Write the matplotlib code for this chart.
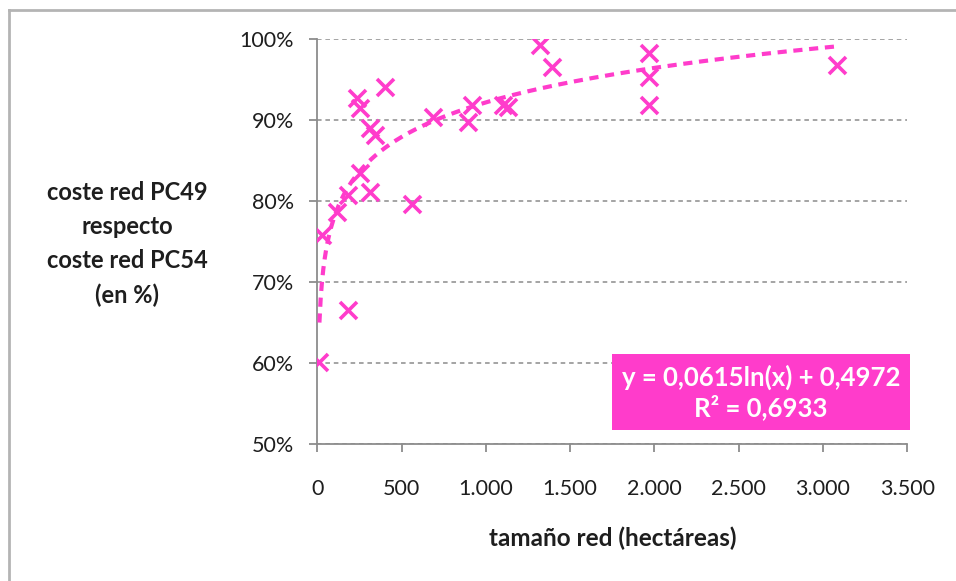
import numpy as np
import matplotlib.pyplot as plt
from matplotlib.ticker import FuncFormatter
from matplotlib.lines import Line2D

# datos: tamaño de red (ha) y coste relativo (%)
TAMANO = [10, 28, 118, 180, 183, 313, 561, 254, 343, 313, 254, 236, 402,
          686, 892, 916, 1099, 1129, 1318, 1395, 1968, 1968, 1968, 3085]
COSTE = [60.1, 75.8, 78.7, 80.8, 66.5, 81.1, 79.6, 83.5, 88.2, 89.0, 91.5,
         92.7, 94.1, 90.4, 89.8, 91.9, 91.9, 91.6, 99.3, 96.6, 98.3, 95.3,
         91.9, 96.8]

# ajuste logarítmico de Excel
COEF_A = 0.0615
COEF_B = 0.4972
R2 = 0.6933
X_TREND_MIN = 12
X_TREND_MAX = 3085

X_TICKS = [0, 500, 1000, 1500, 2000, 2500, 3000, 3500]
Y_TICKS = [50, 60, 70, 80, 90, 100]

MAGENTA = "#FF3CCB"
GRIS = "#8C8C8C"
TEXTO = "#1E1E1E"

plt.rcParams["font.family"] = ["Lato", "DejaVu Sans"]

fig = plt.figure(figsize=(9.56, 5.81), dpi=100)
ax = fig.add_axes([0.332, 0.2358, 0.617, 0.6966])

# línea de tendencia
xt = np.linspace(X_TREND_MIN, X_TREND_MAX, 400)
yt = (COEF_A * np.log(xt) + COEF_B) * 100
ax.plot(xt, yt, color=MAGENTA, lw=3, linestyle=(0, (2.2, 1.6)), zorder=3)

# puntos
ax.scatter(TAMANO, COSTE, marker="x", s=150, color=MAGENTA, linewidths=2.6,
           zorder=4)

ax.set_xlim(0, 3500)
ax.set_ylim(50, 100)
ax.set_xticks(X_TICKS)
ax.set_yticks(Y_TICKS)
ax.xaxis.set_major_formatter(
    FuncFormatter(lambda v, p: f"{int(v):,}".replace(",", ".")))
ax.yaxis.set_major_formatter(FuncFormatter(lambda v, p: f"{int(v)}%"))

ax.grid(axis="y", color=GRIS, linestyle=(0, (3, 2.5)), lw=1.1, zorder=1)
for s in ["top", "right"]:
    ax.spines[s].set_visible(False)
for s in ["left", "bottom"]:
    ax.spines[s].set_color(GRIS)
    ax.spines[s].set_linewidth(1.3)
ax.tick_params(axis="both", direction="out", length=6, width=1.3,
               color=GRIS, labelsize=15.5, labelcolor=TEXTO)
ax.tick_params(axis="y", pad=11)
ax.tick_params(axis="x", pad=19)

ax.set_xlabel("tamaño red (hectáreas)", fontsize=17.5, fontweight="bold",
              color=TEXTO, labelpad=20)

fig.text(0.133, 0.58, "coste red PC49\nrespecto\ncoste red PC54\n(en %)",
         ha="center", va="center", fontsize=17, fontweight="bold",
         color=TEXTO, linespacing=1.58)

# cuadro de la ecuación
ax.text(0.752, 0.1285, "y = 0,0615ln(x) + 0,4972\nR² = 0,6933",
        transform=ax.transAxes, ha="center", va="center", fontsize=18.5,
        fontweight="bold", color="white", linespacing=1.2, zorder=6,
        bbox=dict(boxstyle="square,pad=0.38", facecolor=MAGENTA,
                  edgecolor="none"))

# borde del gráfico (izquierda y arriba)
fig.add_artist(Line2D([0.0094, 0.0094], [0, 0.982], transform=fig.transFigure,
                      color="#B4B4B4", lw=2))
fig.add_artist(Line2D([0.0094, 1.0], [0.982, 0.982], transform=fig.transFigure,
                      color="#B4B4B4", lw=2))

fig.savefig("out.png", dpi=100)
